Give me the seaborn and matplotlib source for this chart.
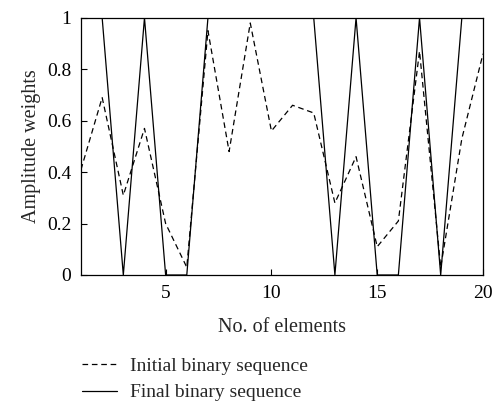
import numpy as np
import pandas as pd
import matplotlib
matplotlib.use("Agg")
import matplotlib.pyplot as plt
import seaborn as sns

# -------------------- DATA --------------------
elements = list(range(1, 21))
initial_seq = [0.41, 0.69, 0.31, 0.57, 0.20, 0.03, 0.95, 0.48, 0.98, 0.56,
               0.66, 0.63, 0.28, 0.46, 0.11, 0.21, 0.87, 0.03, 0.53, 0.86]
final_seq = [1, 1, 0, 1, 0, 0, 1, 1, 1, 1,
             1, 1, 0, 1, 0, 0, 1, 0, 1, 1]
series_names = ["Initial binary sequence", "Final binary sequence"]

df = pd.DataFrame({
    "x": elements * 2,
    "y": initial_seq + final_seq,
    "series": [series_names[0]] * len(elements) + [series_names[1]] * len(elements),
})

# -------------------- STYLE --------------------
sns.set_style("ticks")
plt.rcParams["font.family"] = ["Liberation Serif", "DejaVu Serif"]
plt.rcParams["font.size"] = 14

fig = plt.figure(figsize=(5.0, 4.05), dpi=100)
ax = fig.add_axes([0.162, 0.321, 0.804, 0.635])

sns.lineplot(data=df, x="x", y="y", hue="series", style="series",
             palette=["black", "black"], dashes=[(4.5, 3), ""],
             linewidth=0.9, ax=ax, legend=True)

ax.set_xlim(1, 20)
ax.set_ylim(0, 1)
ax.set_xticks([5, 10, 15, 20])
ax.set_yticks([0, 0.2, 0.4, 0.6, 0.8, 1])
ax.set_yticklabels(["0", "0.2", "0.4", "0.6", "0.8", "1"])
ax.tick_params(direction="in", length=4, width=0.8, labelsize=14, colors="black", pad=7)
for s in ax.spines.values():
    s.set_linewidth(0.9)
    s.set_color("black")

ax.set_xlabel("No. of elements", fontsize=14.5, labelpad=12)
ax.set_ylabel("Amplitude weights", fontsize=14.5, labelpad=4)

# legend below the axes
leg = ax.legend(loc="upper left", bbox_to_anchor=(-0.017, -0.29), frameon=False,
                fontsize=14, handlelength=1.8, handletextpad=0.65, labelspacing=0.45,
                borderaxespad=0)
for line in leg.get_lines():
    line.set_linewidth(0.9)

fig.savefig("out.png", dpi=100)
